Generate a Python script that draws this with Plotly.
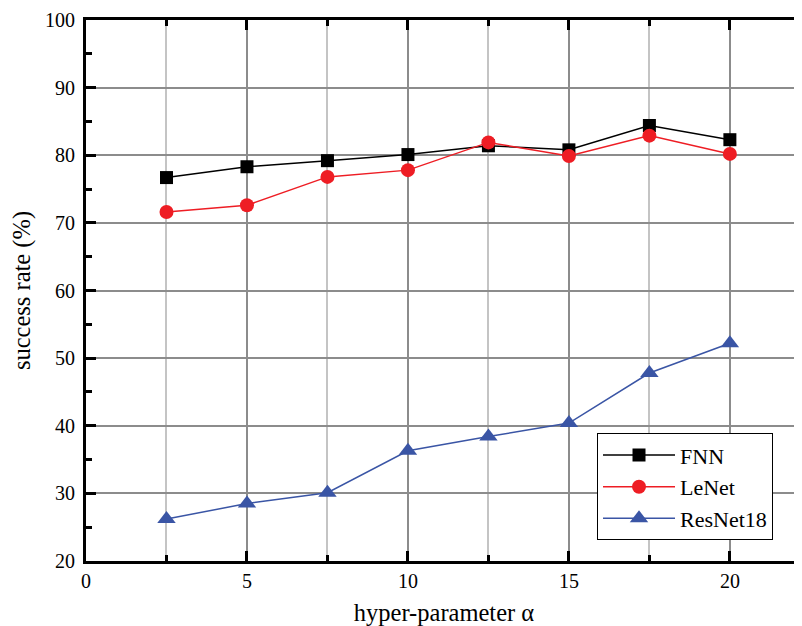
import plotly.graph_objects as go

alpha = [2.5, 5, 7.5, 10, 12.5, 15, 17.5, 20]
fnn = [76.7, 78.3, 79.2, 80.1, 81.4, 80.8, 84.4, 82.3]
lenet = [71.6, 72.6, 76.8, 77.8, 81.9, 79.9, 82.9, 80.2]
resnet18 = [26.2, 28.5, 30.1, 36.3, 38.4, 40.4, 47.8, 52.2]

x_ticks = [0, 5, 10, 15, 20]
y_ticks = [20, 30, 40, 50, 60, 70, 80, 90, 100]

FONT = "Liberation Serif, Times New Roman, serif"

fig = go.Figure()
fig.add_trace(go.Scatter(x=alpha, y=fnn, name="FNN", mode="lines+markers",
                         line=dict(color="black", width=1.5),
                         marker=dict(symbol="square", size=13, color="black")))
fig.add_trace(go.Scatter(x=alpha, y=lenet, name="LeNet", mode="lines+markers",
                         line=dict(color="#ee1d24", width=1.5),
                         marker=dict(symbol="circle", size=14, color="#ee1d24")))
fig.add_trace(go.Scatter(x=alpha, y=resnet18, name="ResNet18", mode="lines+markers",
                         line=dict(color="#3a55a5", width=1.5),
                         marker=dict(symbol="triangle-up", size=16, color="#3a55a5")))

fig.update_layout(
    width=794, height=618,
    margin=dict(l=78, r=0, t=12, b=65),
    plot_bgcolor="white", paper_bgcolor="white",
    font=dict(family=FONT, size=20, color="black"),
    showlegend=True,
    legend=dict(x=0.7137, y=0.236, xanchor="left", yanchor="top",
                bgcolor="white", bordercolor="black", borderwidth=1,
                font=dict(family=FONT, size=22), tracegroupgap=0,
                itemwidth=72),
    xaxis=dict(
        range=[0, 22.24], tickvals=x_ticks, ticktext=[str(v) for v in x_ticks],
        showline=True, linecolor="black", linewidth=3, mirror="ticks",
        ticks="inside", ticklen=10, tickwidth=3, tickcolor="black",
        showgrid=True, gridcolor="#8c8c8c", gridwidth=1.5,
        minor=dict(dtick=2.5, tick0=0, ticks="inside", ticklen=6, tickwidth=3,
                   tickcolor="black", showgrid=True, gridcolor="#c4c4c4", gridwidth=1.5),
        zeroline=False,
        title=dict(text="hyper-parameter α", font=dict(family=FONT, size=24.5), standoff=15),
        tickfont=dict(family=FONT, size=20),
    ),
    yaxis=dict(
        range=[20, 100], tickvals=y_ticks,
        showline=True, linecolor="black", linewidth=3,
        ticks="inside", ticklen=10, tickwidth=3, tickcolor="black",
        showgrid=True, gridcolor="#8c8c8c", gridwidth=1.5,
        minor=dict(dtick=5, tick0=0, ticks="inside", ticklen=6, tickwidth=3,
                   tickcolor="black", showgrid=False),
        zeroline=False,
        title=dict(text="success rate (%)", font=dict(family=FONT, size=24.5), standoff=10),
        tickfont=dict(family=FONT, size=20),
        ticklabelstandoff=4,
    ),
)

fig.write_html("out.html")
